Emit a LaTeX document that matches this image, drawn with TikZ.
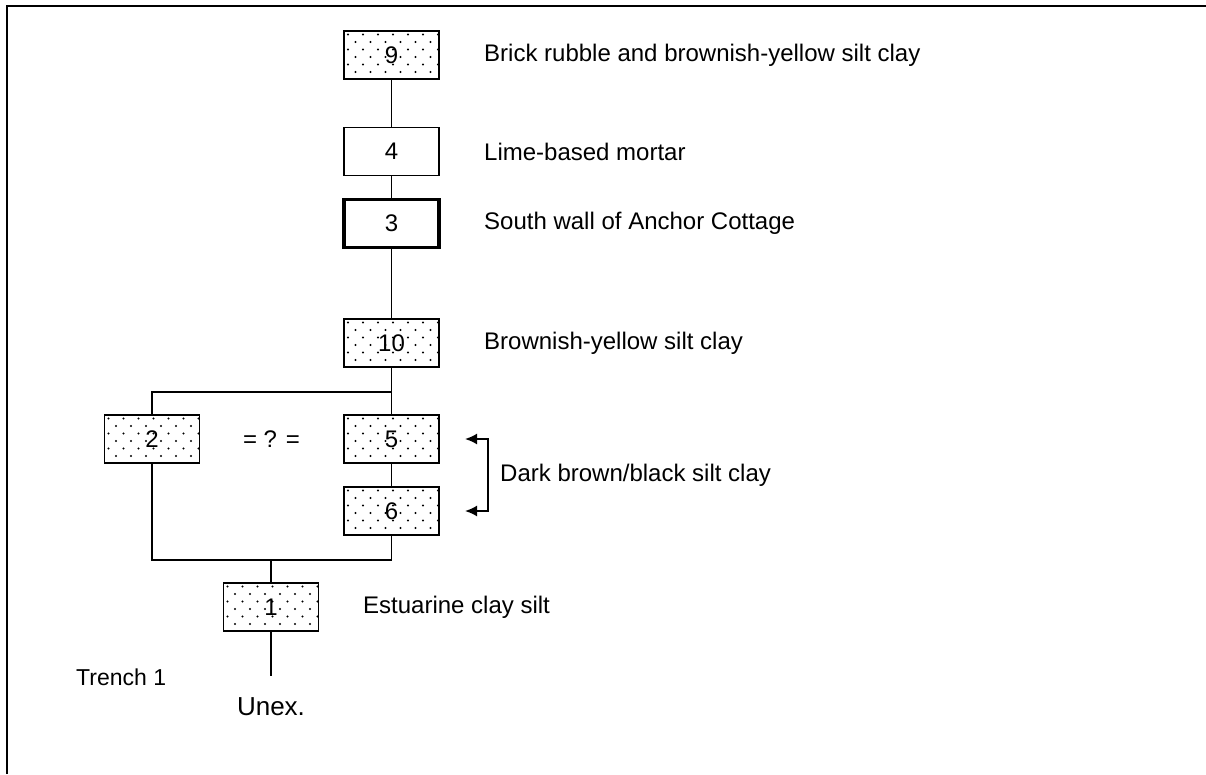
\documentclass[tikz,border=0pt]{standalone}
\usepackage{fontspec}
\setmainfont{Liberation Sans}
\usetikzlibrary{arrows.meta,calc}
\tikzset{
  unit/.style={draw, line width=1.8pt, minimum width=95pt, minimum height=48pt, inner sep=0pt, fill=white, font=\fontsize{24}{28}\selectfont},
  dotted unit/.style={unit, path picture={
      \foreach \j in {0,...,6} {
        \pgfmathsetmacro{\off}{mod(\j,2)*7.5}
        \foreach \i in {0,...,6} {
          \fill[black] ($(path picture bounding box.north west)+(\i*15+\off+4,\j*7.5+3.5)$) circle (1.1pt);
        }
      }}},
  walled unit/.style={unit, line width=3.4pt},
  desc/.style={anchor=west, inner sep=0pt, font=\fontsize{24}{28}\selectfont},
  conn/.style={line width=1.8pt},
  arr/.style={line width=1.8pt, {Latex[length=12pt,width=11pt]}-{Latex[length=12pt,width=11pt]}}
}
\begin{document}
\begin{tikzpicture}[x=1pt,y=-1pt]
\useasboundingbox (0,0) rectangle (1206,774);
% frame
\draw[line width=2pt] (7,774) -- (7,6) -- (1206,6);
% units
\node[dotted unit] (u9) at (391.5,55) {9};
\node[unit] (u4) at (391.5,151.5) {4};
\node[walled unit] (u3) at (391.5,223.5) {3};
\node[dotted unit] (u10) at (391.5,343) {10};
\node[dotted unit] (u2) at (152,439) {2};
\node[dotted unit] (u5) at (391.5,439) {5};
\node[dotted unit] (u6) at (391.5,511) {6};
\node[dotted unit] (u1) at (271,607) {1};
% junctions
\coordinate (jtop) at (391.5,392);
\coordinate (jbot) at (271,560);
\coordinate (unexend) at (271,676);
% connectors
\draw[conn] (u9) -- (u4);
\draw[conn] (u4) -- (u3);
\draw[conn] (u3) -- (u10);
\draw[conn] (u10) -- (u5);
\draw[conn] (jtop) -| (u2.north);
\draw[conn] (u5) -- (u6);
\draw[conn] (u6.south) |- (jbot);
\draw[conn] (u2.south) |- (jbot);
\draw[conn] (jbot) -- (u1);
\draw[conn] (u1) -- (unexend);
% descriptions
\node[desc] (d9) at (484,55) {Brick rubble and brownish-yellow silt clay};
\node[desc] (d4) at (484,151.5) {Lime-based mortar};
\node[desc] (d3) at (484,223.5) {South wall of Anchor Cottage};
\node[desc] (d10) at (484,343) {Brownish-yellow silt clay};
\node[desc] (d56) at (500,475) {Dark brown/black silt clay};
\node[desc] (d1) at (363,607) {Estuarine clay silt};
\node[font=\fontsize{24}{28}\selectfont, inner sep=0pt] (eq) at (271.5,439) {= ? =};
\node[desc, font=\fontsize{23}{27}\selectfont] (trench) at (76,677) {Trench 1};
\node[font=\fontsize{26}{30}\selectfont, inner sep=0pt] (unex) at (271,707) {Unex.};
% bracket arrow
\coordinate (a5) at (465,439);
\coordinate (a6) at (465,511);
\draw[arr] (a5) -- ++(23,0) |- (a6);
\end{tikzpicture}
\end{document}
